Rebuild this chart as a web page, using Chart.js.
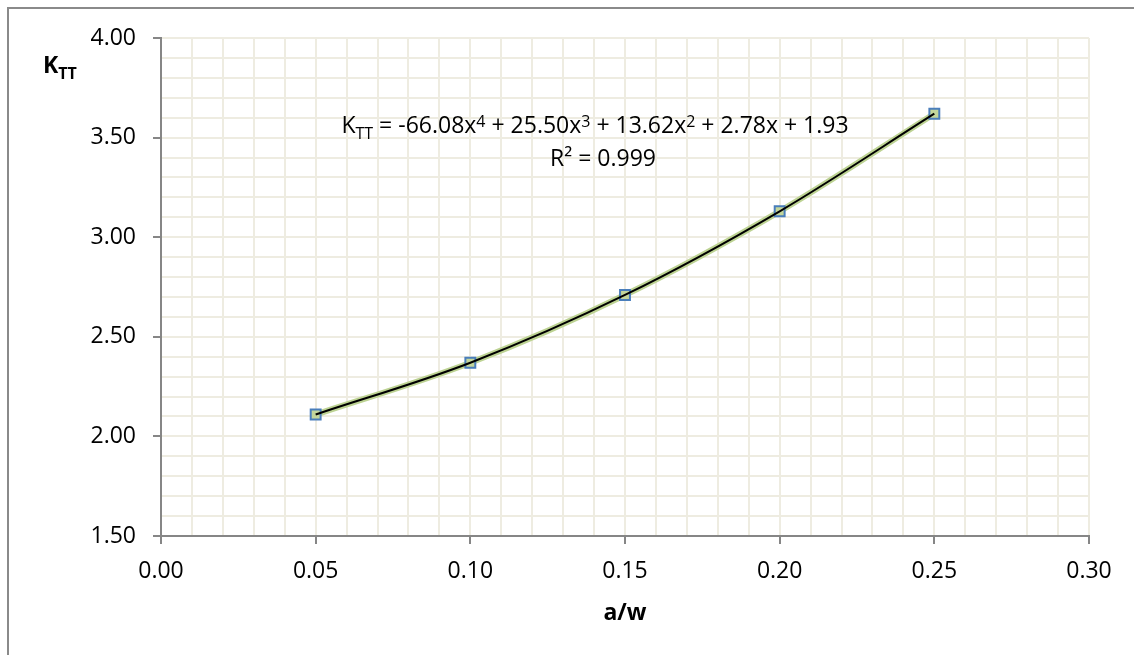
<!DOCTYPE html>
<html>
<head>
<meta charset="utf-8">
<script src="https://cdn.jsdelivr.net/npm/chart.js@4.4.1/dist/chart.umd.min.js"></script>
<style>
  html, body { margin: 0; padding: 0; background: #fff; overflow: hidden; }
  #wrap { width: 1134px; height: 655px; }
</style>
</head>
<body>
<div id="wrap"><canvas id="kttChart" width="1134" height="655"></canvas></div>
<script>
// K_TT correction factor against crack depth ratio a/w
const crackRatio = [0.05, 0.10, 0.15, 0.20, 0.25];
const kttValues = [2.11, 2.37, 2.71, 3.13, 3.62];
// 4th order polynomial fit, highest power first
const trendCoefs = [-66.08, 25.50, 13.62, 2.78, 1.93];
const rSquared = 0.999;
const xTickLabels = [0.00, 0.05, 0.10, 0.15, 0.20, 0.25, 0.30];
const yTickLabels = [1.50, 2.00, 2.50, 3.00, 3.50, 4.00];

const FONT = '"Open Sans", "Liberation Sans", sans-serif';
const AXIS_GREY = '#868686';
const GRID = '#EEECE1';

const isLabelled = (v, list) => list.some(t => Math.abs(t - v) < 1e-9);

// equation text pieces: [text, 'n' | 'sub' | 'sup']
const eqParts = [['K', 'n'], ['TT', 'sub'], [' = ', 'n']];
trendCoefs.forEach((c, i) => {
  const pow = trendCoefs.length - 1 - i;
  const sign = i === 0 ? (c < 0 ? '-' : '') : (c < 0 ? ' - ' : ' + ');
  let term = sign + Math.abs(c).toFixed(2);
  if (pow >= 1) term += 'x';
  eqParts.push([term, 'n']);
  if (pow >= 2) eqParts.push([String(pow), 'sup']);
});

function drawRich(ctx, parts, x, baseline, align, size, weight) {
  const fontFor = kind => weight + ' ' + (kind === 'n' ? size : Math.round(size * 0.7)) + 'px ' + FONT;
  let total = 0;
  parts.forEach(([t, k]) => { ctx.font = fontFor(k); total += ctx.measureText(t).width; });
  let cx = align === 'center' ? x - total / 2 : x;
  ctx.textAlign = 'left';
  ctx.textBaseline = 'alphabetic';
  parts.forEach(([t, k]) => {
    ctx.font = fontFor(k);
    const dy = k === 'sub' ? size * 0.28 : (k === 'sup' ? -size * 0.27 : 0);
    ctx.fillText(t, cx, baseline + dy);
    cx += ctx.measureText(t).width;
  });
}

const annotations = {
  id: 'annotations',
  beforeDraw(chart) {
    const ctx = chart.ctx;
    ctx.save();
    ctx.strokeStyle = '#8a8a8a';
    ctx.lineWidth = 2;
    ctx.strokeRect(8, 8, 1200, 700);
    ctx.restore();
  },
  afterDraw(chart) {
    const ctx = chart.ctx;
    ctx.save();
    ctx.fillStyle = '#000';
    // y axis title
    drawRich(ctx, [['K', 'n'], ['TT', 'sub']], 43, 73, 'left', 23, 'bold');
    // trendline label
    drawRich(ctx, eqParts, 595, 133, 'center', 23, 'normal');
    drawRich(ctx, [['R² = ' + rSquared.toFixed(3), 'n']], 603, 166, 'center', 23, 'normal');
    ctx.restore();
  }
};

const points = crackRatio.map((x, i) => ({ x: x, y: kttValues[i] }));

new Chart(document.getElementById('kttChart').getContext('2d'), {
  type: 'line',
  data: {
    datasets: [{
      label: 'Poly. fit',
      data: points,
      borderColor: '#000',
      borderWidth: 2,
      pointRadius: 0,
      cubicInterpolationMode: 'monotone',
      fill: false
    }, {
      label: 'K_TT',
      data: points,
      borderColor: '#BDD393',
      borderWidth: 6,
      cubicInterpolationMode: 'monotone',
      pointStyle: 'rect',
      pointRadius: 7,
      pointBorderWidth: 2,
      pointBorderColor: '#4A7EBB',
      pointBackgroundColor: '#C3D69B',
      fill: false
    }]
  },
  options: {
    responsive: false,
    animation: false,
    layout: { padding: { top: 38, right: 45, left: 0, bottom: 0 } },
    plugins: {
      legend: { display: false },
      tooltip: { enabled: false }
    },
    scales: {
      x: {
        type: 'linear',
        min: xTickLabels[0],
        max: xTickLabels[xTickLabels.length - 1],
        afterFit: s => { s.height = 119; },
        border: { color: AXIS_GREY, width: 2 },
        grid: {
          color: GRID,
          lineWidth: 2,
          tickLength: 8,
          tickWidth: 2,
          tickColor: c => (c.tick && c.tick.label ? AXIS_GREY : 'rgba(0,0,0,0)')
        },
        ticks: {
          stepSize: 0.01,
          autoSkip: false,
          maxRotation: 0,
          padding: 14,
          color: '#000',
          font: { family: FONT, size: 23 },
          callback: v => (isLabelled(v, xTickLabels) ? v.toFixed(2) : '')
        },
        title: {
          display: true,
          text: 'a/w',
          color: '#000',
          font: { family: FONT, size: 23, weight: 'bold' },
          padding: { top: 0, bottom: 28 }
        }
      },
      y: {
        type: 'linear',
        min: yTickLabels[0],
        max: yTickLabels[yTickLabels.length - 1],
        afterFit: s => { s.width = 161; },
        border: { color: AXIS_GREY, width: 2 },
        grid: {
          color: GRID,
          lineWidth: 2,
          tickLength: 8,
          tickWidth: 2,
          tickColor: c => (c.tick && c.tick.label ? AXIS_GREY : 'rgba(0,0,0,0)')
        },
        ticks: {
          stepSize: 0.1,
          autoSkip: false,
          padding: 17,
          color: '#000',
          font: { family: FONT, size: 23 },
          callback: v => (isLabelled(v, yTickLabels) ? v.toFixed(2) : '')
        }
      }
    }
  },
  plugins: [annotations]
});
</script>
</body>
</html>
